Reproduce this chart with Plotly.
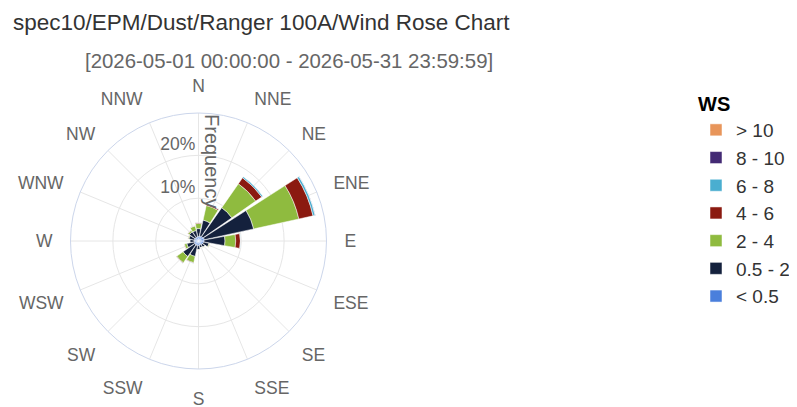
import plotly.graph_objects as go

directions = ["N", "NNE", "NE", "ENE", "E", "ESE", "SE", "SSE",
              "S", "SSW", "SW", "WSW", "W", "WNW", "NW", "NNW"]

ws_lt_05 = [1.1, 1.2, 1.3, 1.4, 1.3, 1.2, 1.1, 1.0, 1.1, 1.1, 1.1, 1.0, 1.0, 1.0, 1.0, 1.0]
ws_05_2 = [1.8, 3.8, 8.2, 11.8, 4.9, 1.3, 0.7, 0.6, 0.9, 2.6, 3.3, 1.8, 1.0, 1.3, 1.6, 1.5]
ws_2_4 = [1.2, 3.5, 6.8, 10.8, 2.5, 0.2, 0.1, 0.1, 0.1, 1.5, 1.8, 0.6, 0.1, 0.2, 0.4, 1.1]
ws_4_6 = [0.2, 0.3, 1.7, 3.4, 1.1, 0.05, 0.02, 0.02, 0.02, 0.15, 0.15, 0.05, 0.02, 0.05, 0.1, 0.1]
ws_6_8 = [0.03, 0.05, 0.3, 0.5, 0.05, 0, 0, 0, 0, 0.02, 0.03, 0, 0, 0, 0.01, 0.02]
ws_8_10 = [0, 0, 0, 0.05, 0, 0, 0, 0, 0, 0, 0, 0, 0, 0, 0, 0]
ws_gt_10 = [0, 0, 0, 0, 0, 0, 0, 0, 0, 0, 0, 0, 0, 0, 0, 0]

series_names = ["< 0.5", "0.5 - 2", "2 - 4", "4 - 6", "6 - 8", "8 - 10", "> 10"]
series_values = [ws_lt_05, ws_05_2, ws_2_4, ws_4_6, ws_6_8, ws_8_10, ws_gt_10]
series_colors = ["#4a7fdc", "#14213d", "#8fbb3f", "#8b1a10", "#4aaed0", "#432a74", "#e8955a"]

radial_tickvals = [10, 20]
radial_ticktext = ["10%<br> ", "20%<br> "]

FONT = "Liberation Sans, Arial, sans-serif"

# the page body has an 8px default margin; lay the figure out in window pixels
W, H, OFF = 789, 399, 8


def px(x):
    return (x - OFF) / W


def py(y):
    return 1 - (y - OFF) / H


fig = go.Figure()
n = len(series_names)
for i, (name, vals, col) in enumerate(zip(series_names, series_values, series_colors)):
    fig.add_trace(go.Barpolar(
        r=vals, theta=directions, name=name, legendgroup=name, legendrank=n - i,
        marker=dict(color=col, line=dict(color="white", width=0.5)),
    ))

fig.update_layout(
    width=W, height=H,
    margin=dict(l=0, r=0, t=0, b=0, autoexpand=False),
    paper_bgcolor="white",
    font=dict(family=FONT, color="#333333"),
    barmode="stack",
    polar=dict(
        domain=dict(x=[px(70), px(327)], y=[py(369), py(113)]),
        bgcolor="white",
        bargap=0.1,
        angularaxis=dict(
            direction="clockwise", rotation=90, type="category",
            showline=True, linecolor="#ccd6eb", linewidth=1,
            gridcolor="#e6e6e6", gridwidth=1,
            ticks="outside", ticklen=14, tickcolor="rgba(0,0,0,0)",
            tickfont=dict(family=FONT, size=17.5, color="#666666"),
        ),
        radialaxis=dict(
            range=[0, 29.9], tickvals=radial_tickvals, ticktext=radial_ticktext,
            angle=90, tickangle=90,
            showline=False, gridcolor="#e6e6e6", gridwidth=1,
            ticks="", tickfont=dict(family=FONT, size=17.5, color="#666666"),
            side="counterclockwise",
        ),
    ),
    legend=dict(
        x=px(696), y=py(85), xanchor="left", yanchor="top",
        traceorder="grouped",
        title=dict(text="<b>WS</b>", font=dict(family=FONT, size=20, color="#000000")),
        font=dict(family=FONT, size=19, color="#333333"),
        tracegroupgap=0,
    ),
    annotations=[
        dict(text="spec10/EPM/Dust/Ranger 100A/Wind Rose Chart", x=px(11), y=py(22),
             xref="paper", yref="paper", xanchor="left", yanchor="middle", showarrow=False,
             font=dict(family=FONT, size=22.5, color="#333333")),
        dict(text="[2026-05-01 00:00:00 - 2026-05-31 23:59:59]", x=px(289), y=py(61),
             xref="paper", yref="paper", xanchor="center", yanchor="middle", showarrow=False,
             font=dict(family=FONT, size=20.4, color="#666666")),
        dict(text="Frequency", textangle=90, x=px(212), y=py(161),
             xref="paper", yref="paper", xanchor="center", yanchor="middle", showarrow=False,
             font=dict(family=FONT, size=20, color="#666666")),
    ],
)

fig.write_html("out.html")
